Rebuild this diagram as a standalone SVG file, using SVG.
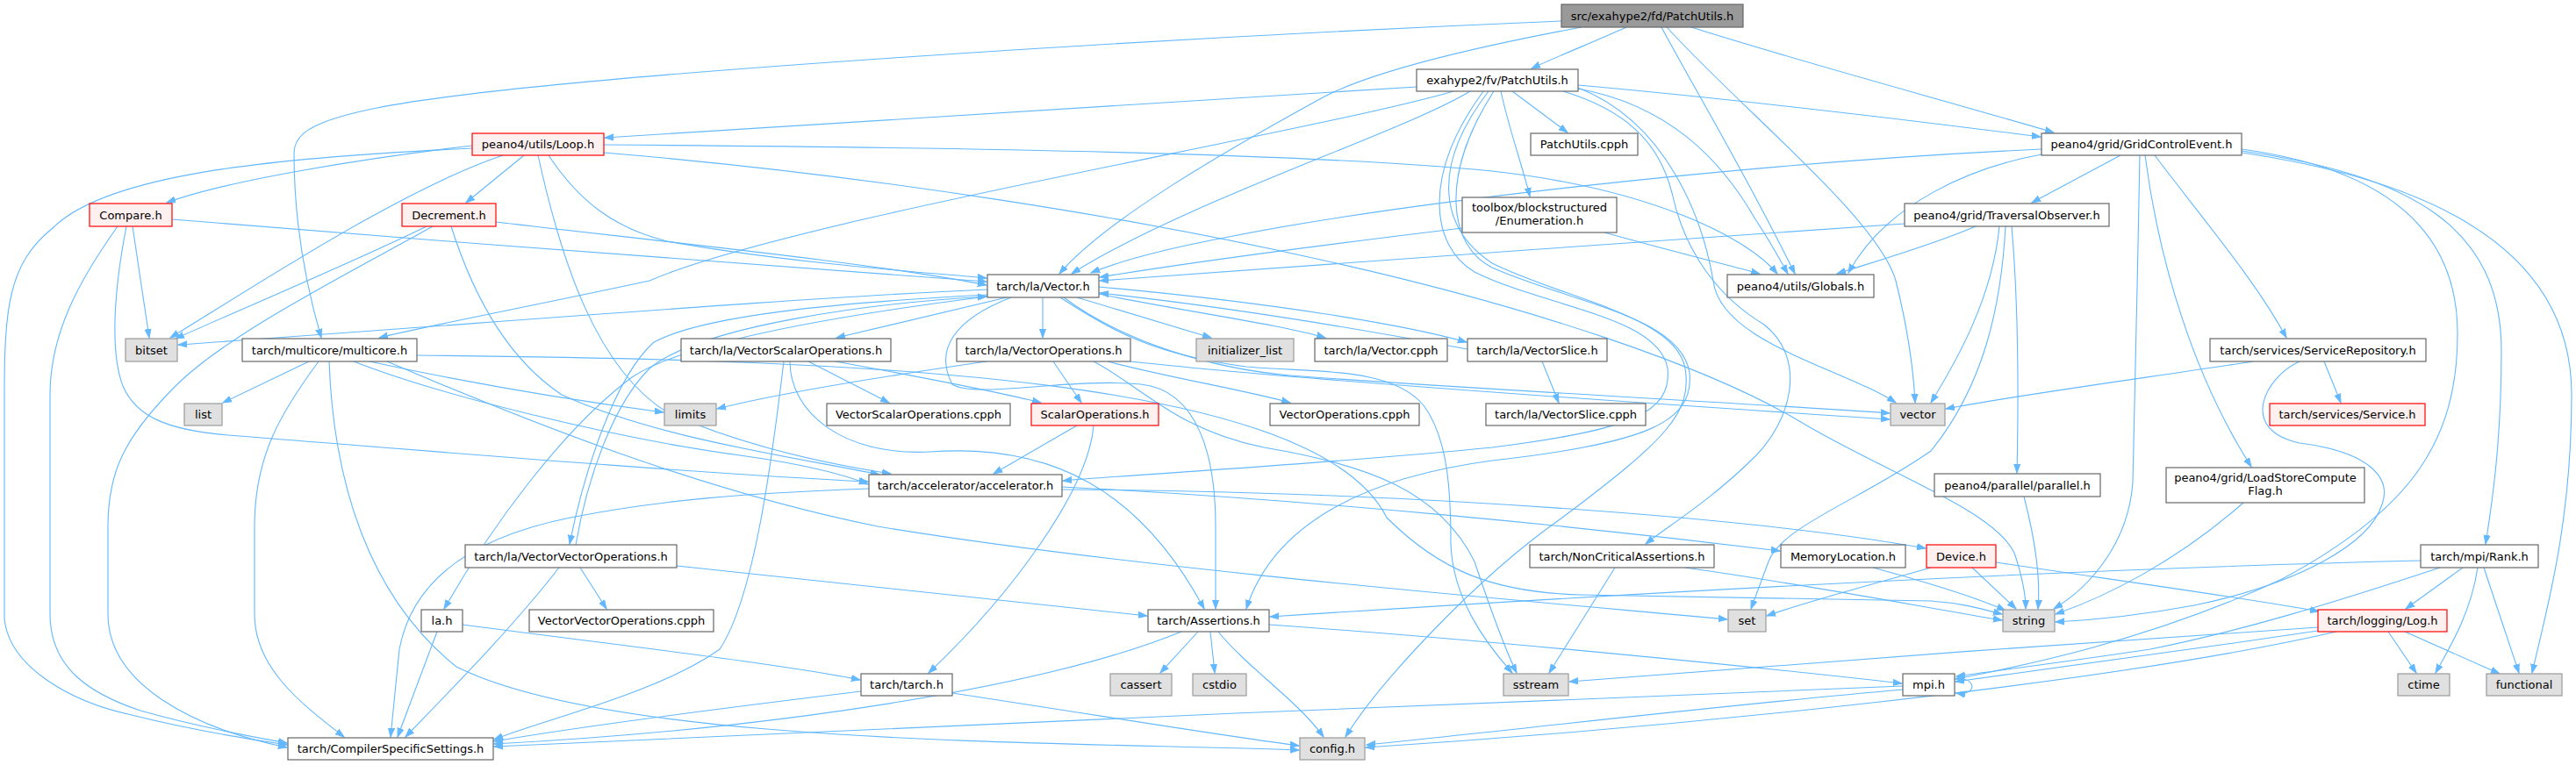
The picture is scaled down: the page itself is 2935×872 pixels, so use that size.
<svg xmlns="http://www.w3.org/2000/svg" width="2935" height="872" viewBox="0 0 2935 872">
<defs>
<marker id="a" markerWidth="11" markerHeight="9" refX="10" refY="4.5" orient="auto" markerUnits="userSpaceOnUse"><path d="M0,1 L10,4.5 L0,8 z" fill="#63b8ff" stroke="#63b8ff" stroke-width="1"/></marker>
<style>
.e path{fill:none;stroke:#63b8ff;stroke-width:1.1;marker-end:url(#a)}
.n rect{fill:#ffffff;stroke:#666666;stroke-width:1.2}
.r rect{fill:#fff0f0;stroke:#ff0000;stroke-width:1.2}
.g rect{fill:#e0e0e0;stroke:#999999;stroke-width:1.2}
.root rect{fill:#999999;stroke:#666666;stroke-width:1.2}
text{font-family:"DejaVu Sans","Liberation Sans",sans-serif;font-size:13px;text-anchor:middle;fill:#000000}
</style>
</defs>
<rect width="2935" height="872" fill="#ffffff"/>
<g id="edges" class="e">
<!-- root -->
<path d="M1853,31 C1820,46 1775,64 1745,78"/>
<path d="M1779,24 C1400,40 600,85 420,125 C350,140 335,155 335,175 C335,260 350,330 366,385"/>
<path d="M1802,31 C1700,50 1560,80 1500,115 C1400,170 1260,250 1207,312"/>
<path d="M1893,31 C1930,100 1990,200 2045,312"/>
<path d="M1899,31 C1990,130 2140,250 2160,320 C2175,380 2180,420 2182,459"/>
<path d="M1927,31 C2050,70 2200,110 2340,151"/>
<!-- fv -->
<path d="M1614,99 C1300,118 900,145 689,157"/>
<path d="M1798,97 C2000,115 2200,140 2325,156"/>
<path d="M1723,104 L1786,151"/>
<path d="M1710,104 C1720,150 1735,190 1743,224"/>
<path d="M1675,104 C1600,150 1350,230 1221,312"/>
<path d="M1656,104 C1500,150 900,250 740,320 C600,350 470,375 432,385"/>
<path d="M1798,101 C1900,120 1960,180 2000,250 C2020,280 2030,300 2037,312"/>
<path d="M1798,100 C1900,140 1940,250 1952,320 C1960,390 2100,420 2160,459"/>
<path d="M1690,104 C1620,200 1630,280 1680,310 C1760,350 1890,360 1900,420 C1905,470 1860,490 1700,510 C1500,530 1300,540 1211,548"/>
<path d="M1702,104 C1640,200 1650,280 1700,305 C1790,345 1915,360 1925,425 C1930,480 1880,505 1700,525 C1550,545 1450,600 1420,694"/>
<path d="M1781,104 C1850,125 1890,160 1905,220 C1920,290 1960,340 2010,370 C2060,410 2040,480 2000,520 C1950,570 1900,600 1875,620"/>
<path d="M1696,104 C1630,190 1640,260 1700,300 C1780,340 1910,360 1920,420 C1928,470 1900,500 1780,590 C1680,660 1570,780 1533,840"/>
<!-- Loop -->
<path d="M538,166 C420,180 260,205 190,231"/>
<path d="M597,177 L531,231"/>
<path d="M573,177 C460,215 300,320 194,385"/>
<path d="M625,177 C660,230 700,260 760,275 C900,300 1050,310 1124,317"/>
<path d="M688,165 C1100,168 1500,175 1700,195 C1880,215 1990,270 2025,312"/>
<path d="M538,169 C300,180 120,200 60,260 C10,300 5,350 5,450 L5,705 C10,760 80,800 150,815 C230,835 300,845 327,849"/>
<path d="M613,177 C640,300 680,420 760,470 C850,510 950,530 1015,540"/>
<path d="M688,174 C1000,200 1300,250 1500,295 C1750,350 1950,420 2050,480 C2150,540 2270,580 2295,630 C2305,660 2308,680 2308,694"/>
<!-- Compare -->
<path d="M151,258 L170,385"/>
<path d="M196,250 C500,275 900,305 1124,321"/>
<path d="M134,258 C90,320 57,380 57,450 L57,700 C57,760 100,790 160,810 C230,830 300,842 327,847"/>
<path d="M144,258 C130,330 125,400 140,440 C155,475 190,490 260,496 C500,515 800,540 989,549"/>
<!-- Decrement -->
<path d="M486,258 C400,300 280,350 200,386"/>
<path d="M565,253 C750,275 1000,300 1124,325"/>
<path d="M493,258 C400,310 260,380 200,440 C140,500 123,540 123,600 L123,700 C123,780 220,830 327,852"/>
<path d="M514,258 C540,340 580,410 640,450 C750,500 900,520 1002,541"/>
<!-- multicore -->
<path d="M352,412 L254,459"/>
<path d="M363,412 C320,470 290,520 290,600 L290,700 C290,760 340,800 392,840"/>
<path d="M375,412 C380,550 420,680 520,760 C700,850 1200,845 1480,855"/>
<path d="M403,412 C500,450 700,500 850,520 C920,530 960,540 989,552"/>
<path d="M421,412 C550,440 680,460 756,470"/>
<path d="M441,412 C600,480 800,560 1000,600 C1300,650 1800,690 1968,706"/>
<path d="M475,405 C1000,410 1500,430 1580,590 C1640,650 1700,675 1800,678 L2200,685 C2240,688 2260,695 2281,700"/>
<!-- Vector.h -->
<path d="M1125,330 C900,340 600,365 203,393"/>
<path d="M1147,339 L953,385"/>
<path d="M1188,339 L1188,385"/>
<path d="M1227,339 L1380,385"/>
<path d="M1252,335 C1350,355 1460,370 1510,385"/>
<path d="M1252,327 C1450,345 1600,370 1671,390"/>
<path d="M1125,336 C950,345 800,360 745,390 C700,430 665,540 649,620"/>
<path d="M1125,338 C950,360 780,390 720,430 C640,490 560,600 506,694"/>
<path d="M1152,339 C1085,365 1065,400 1085,438 C1110,455 1220,430 1300,438 C1365,445 1385,520 1385,600 L1385,694"/>
<path d="M1212,339 C1280,390 1380,420 1470,428 C1700,445 2000,460 2153,471"/>
<path d="M1208,339 C1270,380 1320,405 1420,418 C1500,425 1585,418 1622,462 C1650,500 1653,560 1653,620 C1655,680 1690,730 1723,767"/>
<!-- VectorSlice -->
<path d="M1672,398 C1550,375 1400,350 1253,334"/>
<path d="M1757,412 L1776,459"/>
<!-- VVO back edge -->
<path d="M656,621 C670,540 700,460 740,420 C800,370 1000,345 1124,338"/>
<!-- VSO -->
<path d="M952,412 C1050,430 1130,445 1186,459"/>
<path d="M921,412 L1013,459"/>
<path d="M900,412 C900,470 960,520 1060,515 C1200,505 1300,560 1372,694"/>
<path d="M893,412 C880,520 860,680 820,740 C750,790 620,820 563,843"/>
<!-- VO -->
<path d="M1124,412 C1000,430 880,450 817,466"/>
<path d="M1200,412 L1232,459"/>
<path d="M1262,412 C1330,430 1420,445 1470,459"/>
<path d="M1288,412 C1450,430 1800,455 2153,478"/>
<path d="M1246,412 C1300,440 1340,490 1440,510 C1560,530 1640,560 1680,640 C1700,700 1715,740 1728,767"/>
<!-- ScalarOperations -->
<path d="M1227,485 L1132,540"/>
<path d="M1246,485 C1240,560 1150,680 1058,767"/>
<!-- accelerator -->
<path d="M1210,555 C1500,570 1800,600 2028,628"/>
<path d="M1210,558 C1600,560 2000,590 2194,625"/>
<path d="M990,557 C850,562 750,570 650,590 C540,612 470,660 455,740 L445,840"/>
<!-- VVO -->
<path d="M661,647 L691,694"/>
<path d="M637,647 C580,720 510,790 462,840"/>
<path d="M771,645 C1000,670 1200,690 1307,702"/>
<!-- la.h -->
<path d="M498,720 L453,840"/>
<path d="M527,712 C700,735 880,755 980,775"/>
<!-- Assertions -->
<path d="M1365,720 L1322,767"/>
<path d="M1379,720 L1384,767"/>
<path d="M1346,720 C1200,780 900,830 563,848"/>
<path d="M1388,720 C1420,760 1480,800 1508,840"/>
<path d="M1446,712 C1700,730 2000,760 2167,779"/>
<!-- tarch.h -->
<path d="M981,788 C800,810 650,830 563,845"/>
<path d="M1085,790 C1250,815 1400,840 1480,850"/>
<!-- NCA -->
<path d="M1840,647 L1765,767"/>
<path d="M1920,647 C2050,665 2180,690 2281,707"/>
<!-- MemoryLocation / Device -->
<path d="M2134,647 C2200,665 2250,680 2285,696"/>
<path d="M2247,647 L2297,694"/>
<path d="M2274,641 C2400,660 2550,680 2642,697"/>
<path d="M2200,647 C2120,670 2060,685 2013,702"/>
<!-- Rank -->
<path d="M2758,639 C2300,650 1800,680 1447,703"/>
<path d="M2780,647 C2650,690 2550,720 2450,740 C2350,755 2270,765 2229,771"/>
<path d="M2806,647 L2741,694"/>
<path d="M2823,647 C2815,700 2790,740 2775,767"/>
<path d="M2830,647 L2870,767"/>
<!-- Log -->
<path d="M2721,720 L2753,767"/>
<path d="M2740,720 L2848,768"/>
<path d="M2641,719 C2500,740 2350,760 2228,777"/>
<path d="M2641,715 C2400,730 2000,760 1788,777"/>
<path d="M2662,720 C2400,780 1900,830 1556,852"/>
<!-- mpi -->
<path d="M2168,786 C1950,805 1700,835 1557,849"/>
<path d="M2168,782 C1700,800 1000,830 563,851"/>
<path d="M2227,774 C2252,770 2254,794 2229,790"/>
<!-- GCE -->
<path d="M2326,170 C2000,185 1600,230 1400,270 C1320,285 1270,300 1243,311"/>
<path d="M2326,176 C2250,190 2150,230 2106,311"/>
<path d="M2416,177 L2315,231"/>
<path d="M2438,177 C2436,300 2432,450 2430,550 C2425,620 2380,670 2340,694"/>
<path d="M2444,177 C2460,300 2500,430 2565,532"/>
<path d="M2455,177 C2510,250 2570,320 2605,385"/>
<path d="M2554,170 C2700,190 2800,250 2800,380 C2800,500 2750,580 2600,660 C2450,730 2300,760 2228,774"/>
<path d="M2554,172 C2750,200 2850,260 2850,400 C2850,500 2840,570 2832,620"/>
<path d="M2554,174 C2800,210 2930,300 2930,450 C2930,600 2900,700 2885,767"/>
<!-- TraversalObserver -->
<path d="M2251,258 C2200,280 2130,300 2093,312"/>
<path d="M2170,255 C1900,275 1500,300 1253,320"/>
<path d="M2285,258 C2280,350 2260,440 2200,514 C2120,570 2030,600 2015,640 L1995,694"/>
<path d="M2278,258 C2270,340 2230,410 2200,459"/>
<path d="M2292,258 C2300,350 2300,450 2298,539"/>
<!-- parallel, LSCF, ServiceRepository -->
<path d="M2306,566 C2320,620 2325,660 2322,694"/>
<path d="M2556,573 C2480,640 2400,680 2342,700"/>
<path d="M2567,412 C2450,430 2300,450 2217,466"/>
<path d="M2648,412 L2667,459"/>
<path d="M2620,412 C2580,430 2550,490 2620,505 C2700,515 2725,545 2714,575 C2700,620 2620,665 2500,690 C2430,703 2380,707 2342,709"/>
<!-- Enumeration -->
<path d="M1666,260 C1500,280 1350,300 1253,316"/>
<path d="M1828,265 C1900,285 1960,300 2005,312"/>
</g>
<g id="n1" class="root"><rect x="1779" y="5" width="207" height="26"/><text x="1882.5" y="22.5">src/exahype2/fd/PatchUtils.h</text></g>
<g id="n2" class="n"><rect x="1614" y="79" width="184" height="25"/><text x="1706" y="96">exahype2/fv/PatchUtils.h</text></g>
<g id="n3" class="r"><rect x="538" y="152" width="150" height="25"/><text x="613" y="169">peano4/utils/Loop.h</text></g>
<g id="n4" class="n"><rect x="2326" y="152" width="228" height="25"/><text x="2440" y="169">peano4/grid/GridControlEvent.h</text></g>
<g id="n5" class="n"><rect x="1744" y="152" width="122" height="25"/><text x="1805" y="169">PatchUtils.cpph</text></g>
<g id="n6" class="r"><rect x="102" y="232" width="94" height="26"/><text x="149" y="249.5">Compare.h</text></g>
<g id="n7" class="r"><rect x="458" y="232" width="107" height="26"/><text x="511.5" y="249.5">Decrement.h</text></g>
<g id="n8" class="n"><rect x="1666" y="225" width="176" height="40"/><text x="1754" y="241">toolbox/blockstructured</text><text x="1754" y="256">/Enumeration.h</text></g>
<g id="n9" class="n"><rect x="2170" y="232" width="233" height="26"/><text x="2286.5" y="249.5">peano4/grid/TraversalObserver.h</text></g>
<g id="n10" class="n"><rect x="1125" y="313" width="127" height="26"/><text x="1188.5" y="330.5">tarch/la/Vector.h</text></g>
<g id="n11" class="n"><rect x="1968" y="313" width="167" height="26"/><text x="2051.5" y="330.5">peano4/utils/Globals.h</text></g>
<g id="n12" class="g"><rect x="143" y="386" width="59" height="26"/><text x="172.5" y="403.5">bitset</text></g>
<g id="n13" class="n"><rect x="276" y="386" width="199" height="26"/><text x="375.5" y="403.5">tarch/multicore/multicore.h</text></g>
<g id="n14" class="n"><rect x="776" y="386" width="239" height="26"/><text x="895.5" y="403.5">tarch/la/VectorScalarOperations.h</text></g>
<g id="n15" class="n"><rect x="1090" y="386" width="198" height="26"/><text x="1189" y="403.5">tarch/la/VectorOperations.h</text></g>
<g id="n16" class="g"><rect x="1363" y="386" width="111" height="26"/><text x="1418.5" y="403.5">initializer_list</text></g>
<g id="n17" class="n"><rect x="1498" y="386" width="151" height="26"/><text x="1573.5" y="403.5">tarch/la/Vector.cpph</text></g>
<g id="n18" class="n"><rect x="1672" y="386" width="159" height="26"/><text x="1751.5" y="403.5">tarch/la/VectorSlice.h</text></g>
<g id="n19" class="n"><rect x="2518" y="386" width="246" height="26"/><text x="2641" y="403.5">tarch/services/ServiceRepository.h</text></g>
<g id="n20" class="g"><rect x="210" y="460" width="43" height="25"/><text x="231.5" y="477">list</text></g>
<g id="n21" class="g"><rect x="757" y="460" width="59" height="25"/><text x="786.5" y="477">limits</text></g>
<g id="n22" class="n"><rect x="942" y="460" width="209" height="25"/><text x="1046.5" y="477">VectorScalarOperations.cpph</text></g>
<g id="n23" class="r"><rect x="1175" y="460" width="145" height="25"/><text x="1247.5" y="477">ScalarOperations.h</text></g>
<g id="n24" class="n"><rect x="1447" y="460" width="170" height="25"/><text x="1532" y="477">VectorOperations.cpph</text></g>
<g id="n25" class="n"><rect x="1693" y="460" width="182" height="25"/><text x="1784" y="477">tarch/la/VectorSlice.cpph</text></g>
<g id="n26" class="g"><rect x="2154" y="460" width="62" height="25"/><text x="2185" y="477">vector</text></g>
<g id="n27" class="r"><rect x="2586" y="460" width="177" height="25"/><text x="2674.5" y="477">tarch/services/Service.h</text></g>
<g id="n28" class="n"><rect x="990" y="541" width="220" height="25"/><text x="1100" y="558">tarch/accelerator/accelerator.h</text></g>
<g id="n29" class="n"><rect x="2204" y="540" width="189" height="26"/><text x="2298.5" y="557.5">peano4/parallel/parallel.h</text></g>
<g id="n30" class="n"><rect x="2468" y="533" width="226" height="40"/><text x="2581" y="549">peano4/grid/LoadStoreCompute</text><text x="2581" y="564">Flag.h</text></g>
<g id="n31" class="n"><rect x="530" y="621" width="241" height="26"/><text x="650.5" y="638.5">tarch/la/VectorVectorOperations.h</text></g>
<g id="n32" class="n"><rect x="1743" y="621" width="210" height="26"/><text x="1848" y="638.5">tarch/NonCriticalAssertions.h</text></g>
<g id="n33" class="n"><rect x="2029" y="621" width="142" height="26"/><text x="2100" y="638.5">MemoryLocation.h</text></g>
<g id="n34" class="r"><rect x="2195" y="621" width="79" height="26"/><text x="2234.5" y="638.5">Device.h</text></g>
<g id="n35" class="n"><rect x="2758" y="621" width="134" height="26"/><text x="2825" y="638.5">tarch/mpi/Rank.h</text></g>
<g id="n36" class="n"><rect x="480" y="695" width="47" height="25"/><text x="503.5" y="712">la.h</text></g>
<g id="n37" class="n"><rect x="603" y="695" width="210" height="25"/><text x="708" y="712">VectorVectorOperations.cpph</text></g>
<g id="n38" class="n"><rect x="1308" y="695" width="138" height="25"/><text x="1377" y="712">tarch/Assertions.h</text></g>
<g id="n39" class="g"><rect x="1969" y="695" width="43" height="25"/><text x="1990.5" y="712">set</text></g>
<g id="n40" class="g"><rect x="2282" y="695" width="59" height="25"/><text x="2311.5" y="712">string</text></g>
<g id="n41" class="r"><rect x="2641" y="695" width="147" height="25"/><text x="2714.5" y="712">tarch/logging/Log.h</text></g>
<g id="n42" class="n"><rect x="981" y="768" width="104" height="25"/><text x="1033" y="785">tarch/tarch.h</text></g>
<g id="n43" class="g"><rect x="1265" y="768" width="70" height="25"/><text x="1300" y="785">cassert</text></g>
<g id="n44" class="g"><rect x="1359" y="768" width="61" height="25"/><text x="1389.5" y="785">cstdio</text></g>
<g id="n45" class="g"><rect x="1713" y="768" width="74" height="25"/><text x="1750" y="785">sstream</text></g>
<g id="n46" class="n"><rect x="2168" y="768" width="59" height="25"/><text x="2197.5" y="785">mpi.h</text></g>
<g id="n47" class="g"><rect x="2732" y="768" width="59" height="25"/><text x="2761.5" y="785">ctime</text></g>
<g id="n48" class="g"><rect x="2833" y="768" width="86" height="25"/><text x="2876" y="785">functional</text></g>
<g id="n49" class="n"><rect x="328" y="841" width="234" height="25"/><text x="445" y="858">tarch/CompilerSpecificSettings.h</text></g>
<g id="n50" class="g"><rect x="1481" y="841" width="74" height="25"/><text x="1518" y="858">config.h</text></g>
</svg>
